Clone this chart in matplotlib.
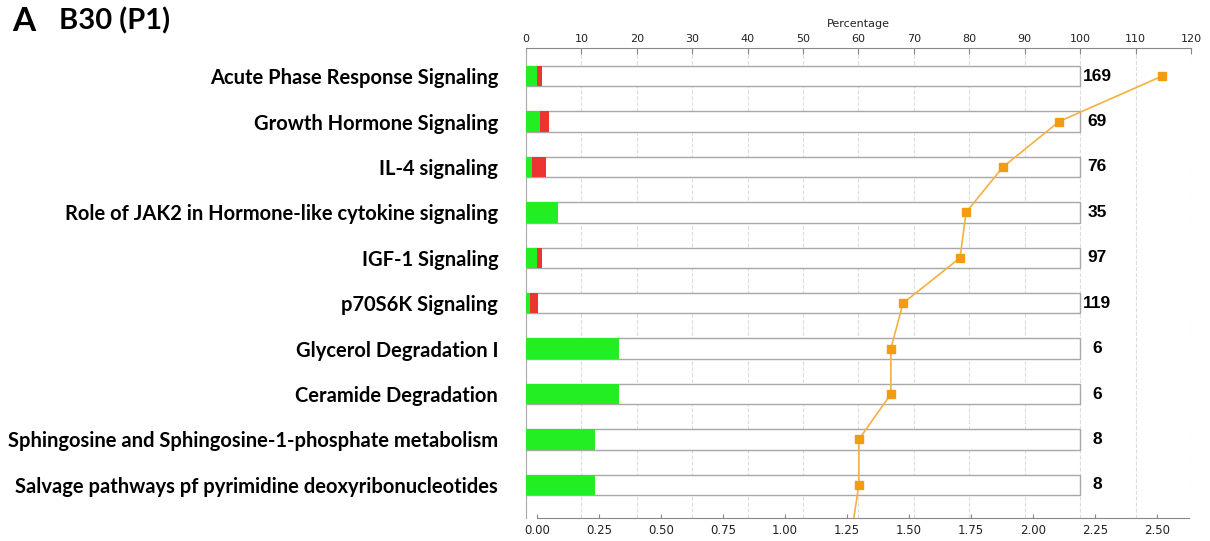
import numpy as np
import matplotlib
matplotlib.use('Agg')
import matplotlib.pyplot as plt

# pathway data
pathways = ['Acute Phase Response Signaling', 'Growth Hormone Signaling', 'IL-4 signaling',
            'Role of JAK2 in Hormone-like cytokine signaling', 'IGF-1 Signaling',
            'p70S6K Signaling', 'Glycerol Degradation I', 'Ceramide Degradation',
            'Sphingosine and Sphingosine-1-phosphate metabolism',
            'Salvage pathways pf pyrimidine deoxyribonucleotides']
up_pct = [2.0, 2.6, 1.0, 5.7, 2.0, 0.7, 16.7, 16.7, 12.5, 12.5]     # green
down_pct = [0.8, 1.6, 2.6, 0.0, 0.8, 1.5, 0.0, 0.0, 0.0, 0.0]      # red
totals = [169, 69, 76, 35, 97, 119, 6, 6, 8, 8]
neg_log_p = [2.52, 2.105, 1.879, 1.73, 1.706, 1.476, 1.427, 1.427, 1.298, 1.298]
next_log_p = 1.27   # next pathway, only its connecting segment shows below the axes

pct_ticks = list(range(0, 130, 10))
p_ticks = [0.0, 0.25, 0.5, 0.75, 1.0, 1.25, 1.5, 1.75, 2.0, 2.25, 2.5]

green = '#22ee22'
red = '#ee3333'
orange = '#f39c12'
grey = '#a8a8a8'

fig = plt.figure(figsize=(12.1, 5.41), dpi=100)
ax = fig.add_axes([0.4347, 0.0425, 0.5496, 0.8688])
ax2 = ax.twiny()   # -log(p) scale, shown at the bottom
y = np.arange(len(pathways))
h = 0.45

ax.barh(y, [100] * len(y), height=h, color='white', edgecolor=grey, linewidth=1, zorder=2)
ax.barh(y, up_pct, height=h, color=green, linewidth=0, zorder=3)
ax.barh(y, down_pct, left=up_pct, height=h, color=red, linewidth=0, zorder=3)
for yi, n in zip(y, totals):
    ax.text(103.1, yi, str(n), ha='center', va='center', fontsize=12.5,
            fontweight='bold', family='Liberation Sans', zorder=4)

ax.set_xlim(0, 120)
ax.set_ylim(len(y) - 1 + 0.73, -0.62)
ax.xaxis.set_ticks_position('top')
ax.xaxis.set_label_position('top')
ax.set_xticks(pct_ticks)
ax.tick_params(axis='x', direction='in', length=4, color='#888888', labelsize=8, pad=3,
               labelcolor='#222222')
ax.set_xlabel('Percentage', fontsize=8, labelpad=5, color='#222222')
ax.set_yticks(y)
ax.set_yticklabels(pathways, fontsize=14.5, fontweight='bold', family='Lato')
ax.tick_params(axis='y', length=0, pad=20)
ax.grid(axis='x', color='#dddddd', linestyle='--', linewidth=0.8, zorder=0)
for s in ['right', 'bottom']:
    ax.spines[s].set_visible(False)
ax.spines['top'].set_color('#888888')
ax.spines['left'].set_color('#aaaaaa')

# -log(p) line on the bottom axis
ax2.set_xlim(-0.044, 2.637)
ax2.xaxis.set_ticks_position('bottom')
ax2.xaxis.set_label_position('bottom')
ax2.set_xticks(p_ticks)
ax2.set_xticklabels(['%.2f' % t for t in p_ticks])
ax2.tick_params(axis='x', direction='in', length=3, color='#888888', labelsize=8.5, pad=4,
                labelcolor='#222222')
ax2.plot(neg_log_p + [next_log_p], list(y) + [len(y)], color='#f5b041', linewidth=1.2,
         zorder=5)
ax2.plot(neg_log_p, y, linestyle='none', marker='s', markersize=6, color=orange, zorder=6)
for s in ['top', 'right', 'left']:
    ax2.spines[s].set_visible(False)
ax2.spines['bottom'].set_color('#888888')
ax2.spines['bottom'].set_bounds(0, 2.63)
ax2.set_ylim(ax.get_ylim())

fig.text(0.010, 0.960, 'A', fontsize=24, fontweight='bold', family='Lato', va='center')
fig.text(0.049, 0.962, 'B30 (P1)', fontsize=21, fontweight='bold', family='Lato', va='center')

fig.savefig('out.png', dpi=100)
